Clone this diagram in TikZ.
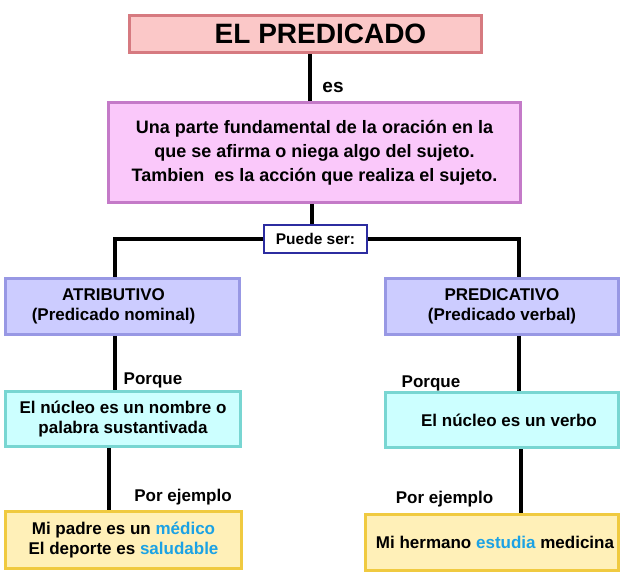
\documentclass[tikz,border=0pt]{standalone}
\usepackage{fontspec}
\setmainfont{Liberation Sans}
\usepackage{tikz}

\definecolor{titlefill}{RGB}{251,200,200}
\definecolor{titleline}{RGB}{214,122,128}
\definecolor{deffill}{RGB}{250,200,250}
\definecolor{defline}{RGB}{196,122,200}
\definecolor{typefill}{RGB}{204,204,255}
\definecolor{typeline}{RGB}{152,152,228}
\definecolor{whyfill}{RGB}{204,255,255}
\definecolor{whyline}{RGB}{120,214,210}
\definecolor{exfill}{RGB}{255,240,184}
\definecolor{exline}{RGB}{240,202,64}
\definecolor{puedeline}{RGB}{44,44,160}
\definecolor{exblue}{RGB}{28,162,228}

\begin{document}
\begin{tikzpicture}
  [x=1pt,y=-1pt,
   every node/.style={font=\fontsize{17}{20}\selectfont\bfseries,align=center,inner sep=0pt},
   box/.style={draw,rectangle,line width=3pt},
   conn/.style={line width=4pt}]
  \useasboundingbox (0,0) rectangle (624,577);
  \node[box,fill=titlefill,draw=titleline,minimum width=352,minimum height=37,
        font=\fontsize{28}{32}\selectfont\bfseries] (titulo) at (305.5,34) {\hspace*{30pt}EL PREDICADO};
  \node[box,fill=deffill,draw=defline,minimum width=412,minimum height=100,
        font=\fontsize{18}{24}\selectfont\bfseries] (def) at (314.5,152.5)
        {Una parte fundamental de la oración en la\\que se afirma o niega algo del sujeto.\\Tambien\ \ es la acción que realiza el sujeto.};
  \node[draw=puedeline,fill=white,line width=1.5pt,minimum width=103,minimum height=28,
        font=\fontsize{15.5}{18}\selectfont\bfseries] (puede) at (315.5,239) {Puede ser:};
  \node[box,fill=typefill,draw=typeline,minimum width=234,minimum height=56] (atrib) at (122.5,306.5)
        {ATRIBUTIVO\hspace*{18pt}\\(Predicado nominal)\hspace*{18pt}};
  \node[box,fill=typefill,draw=typeline,minimum width=233,minimum height=56] (predic) at (502,306.5)
        {PREDICATIVO\\(Predicado verbal)};
  \node[box,fill=whyfill,draw=whyline,minimum width=235,minimum height=55] (nucl) at (123,419)
        {El núcleo es un nombre o\\palabra sustantivada};
  \node[box,fill=whyfill,draw=whyline,minimum width=233,minimum height=55] (nucr) at (502,420)
        {\hspace*{14pt}El núcleo es un verbo};
  \node[box,fill=exfill,draw=exline,minimum width=236,minimum height=57] (ejl) at (123.5,540)
        {Mi padre es un \textcolor{exblue}{médico}\\El deporte es \textcolor{exblue}{saludable}};
  \node[box,fill=exfill,draw=exline,minimum width=253,minimum height=56] (ejr) at (492,542.5)
        {\hspace*{6pt}Mi hermano \textcolor{exblue}{estudia} medicina};

  % etiquetas
  \node[font=\fontsize{19}{22}\selectfont\bfseries] (es) at (333,87) {es};
  \node (porl) at (153,380) {Porque};
  \node (porr) at (431,383) {Porque};
  \node (ejeml) at (183,497) {Por ejemplo};
  \node (ejemr) at (444.5,499) {Por ejemplo};

  \draw[conn] (titulo.south -| 310,0) -- (def.north -| 310,0);
  \draw[conn] (def.south -| 312,0) -- (puede.north -| 312,0);
  \draw[conn] (puede.west) -| (atrib.north -| 115,0);
  \draw[conn] (puede.east) -| (predic.north -| 519,0);
  \foreach \from/\to/\xx in {atrib/nucl/115,nucl/ejl/109,predic/nucr/519,nucr/ejr/521}
    \draw[conn] (\from.south -| \xx,0) -- (\to.north -| \xx,0);
\end{tikzpicture}
\end{document}
